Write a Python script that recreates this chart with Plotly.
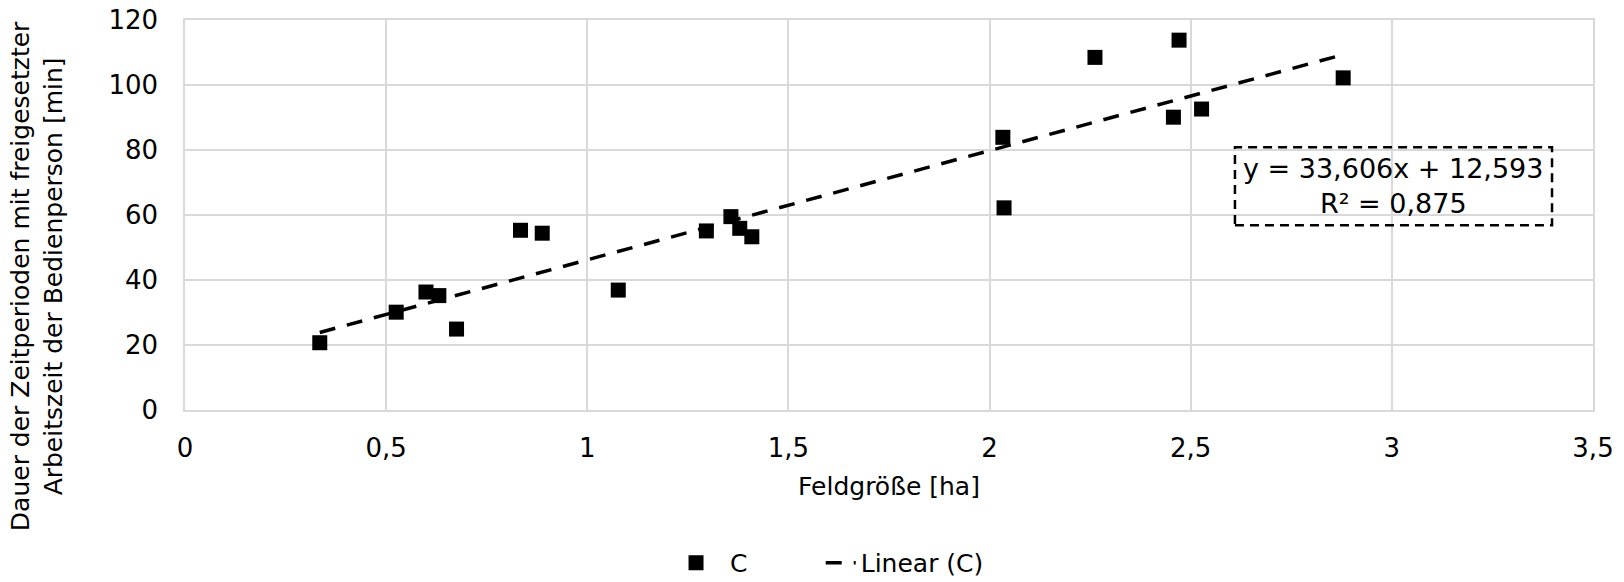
import plotly.graph_objects as go

# Data
feldgroesse_ha = [0.335, 0.525, 0.599, 0.631, 0.675, 0.834, 0.888, 1.077, 1.296,
                  1.357, 1.379, 1.409, 2.033, 2.036, 2.262, 2.457, 2.471, 2.527, 2.879]
dauer_min = [20.7, 30.1, 36.3, 35.2, 24.9, 55.3, 54.4, 36.9, 55.1,
             59.5, 55.9, 53.3, 83.9, 62.2, 108.5, 90.1, 113.8, 92.6, 102.2]

# Trendline coefficients (as printed on the chart)
slope = 33.606
intercept = 12.593
r_squared = 0.875

x_tickvals = [0, 0.5, 1, 1.5, 2, 2.5, 3, 3.5]
x_ticktext = ["0", "0,5", "1", "1,5", "2", "2,5", "3", "3,5"]
y_tickvals = [0, 20, 40, 60, 80, 100, 120]
y_ticktext = ["0", "20", "40", "60", "80", "100", "120"]

FONT = "DejaVu Sans"
GRID = "#d9d9d9"

trend_x = [min(feldgroesse_ha), max(feldgroesse_ha)]
trend_y = [slope * v + intercept for v in trend_x]

fig = go.Figure()
fig.add_trace(go.Scatter(
    x=feldgroesse_ha, y=dauer_min, mode="markers", name="C",
    marker=dict(symbol="square", size=15, color="black"),
    legend="legend",
))
fig.add_trace(go.Scatter(
    x=trend_x, y=trend_y, mode="lines", name="Linear (C)",
    line=dict(color="black", width=3.5, dash="16px,12px"),
    legend="legend2",
))

fig.update_layout(
    width=1624, height=582,
    margin=dict(l=185, r=31, t=20, b=172, autoexpand=False),
    paper_bgcolor="white", plot_bgcolor="white",
    font=dict(family=FONT, size=25, color="black"),
    showlegend=True,
    legend=dict(orientation="h", x=0.3388, xanchor="left", y=-0.3923, yanchor="middle",
                font=dict(size=25), itemwidth=58, bgcolor="rgba(0,0,0,0)",
                borderwidth=0),
    legend2=dict(orientation="h", x=0.4515, xanchor="left", y=-0.3923, yanchor="middle",
                 font=dict(size=25), itemwidth=30, bgcolor="rgba(0,0,0,0)",
                 borderwidth=0),
    xaxis=dict(
        range=[0, 3.5], tickvals=x_tickvals, ticktext=x_ticktext,
        showgrid=True, gridcolor=GRID, gridwidth=1.5, zeroline=False,
        showline=True, linecolor=GRID, linewidth=1.5, mirror=True,
        tickfont=dict(size=26), ticks="", ticklabelstandoff=14,
        title=dict(text="Feldgröße [ha]", font=dict(size=25), standoff=16),
        automargin=False,
    ),
    yaxis=dict(
        range=[0, 120], tickvals=y_tickvals, ticktext=y_ticktext,
        showgrid=True, gridcolor=GRID, gridwidth=1.5, zeroline=False,
        showline=True, linecolor=GRID, linewidth=1.5, mirror=True,
        tickfont=dict(size=26), ticks="", ticklabelstandoff=20,
        automargin=False,
    ),
)

# y-axis title (two lines, centred lower than the plot centre as in the reference)
fig.add_annotation(
    text="Dauer der Zeitperioden mit freigesetzter<br>Arbeitszeit der Bedienperson [min]",
    xref="paper", yref="paper", x=-0.105, y=0.3436, xanchor="center", yanchor="middle",
    textangle=-90, showarrow=False, font=dict(size=25),
)

# Equation box
fig.add_shape(type="rect", xref="paper", yref="paper",
              x0=0.7457, x1=0.9709, y0=0.474, y1=0.674,
              line=dict(color="black", width=2.5, dash="9px,6px"),
              fillcolor="rgba(0,0,0,0)")
fig.add_annotation(
    text=f"y = {str(slope).replace('.', ',')}x + {str(intercept).replace('.', ',')}<br>"
         f"R² = {str(r_squared).replace('.', ',')}",
    xref="paper", yref="paper", x=0.8583, y=0.574, xanchor="center", yanchor="middle",
    showarrow=False, font=dict(size=27), align="center",
)

fig.write_html("out.html")
